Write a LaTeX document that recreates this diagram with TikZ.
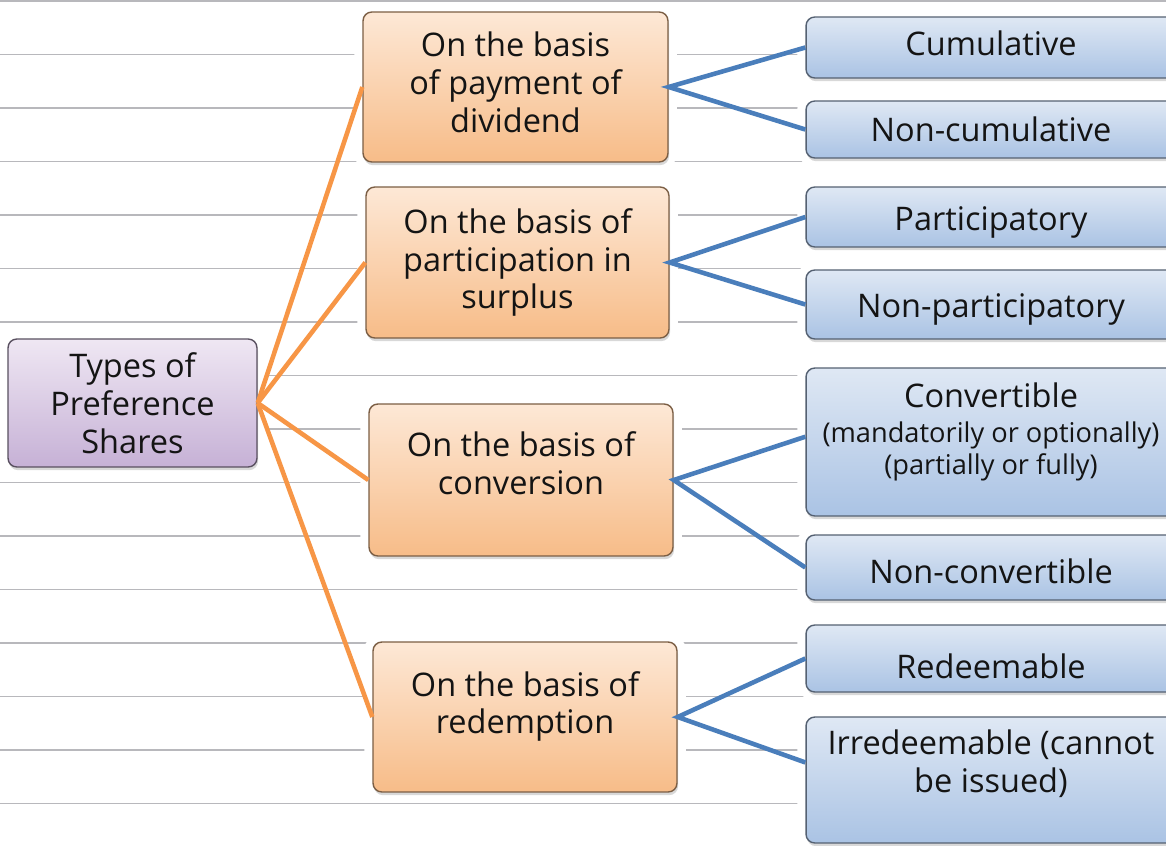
\documentclass[tikz,border=0pt]{standalone}
\usepackage{fontspec}
\setmainfont{Open Sans}
\usetikzlibrary{shadows}
\definecolor{purpletop}{HTML}{EFE7F3}
\definecolor{purplebot}{HTML}{C6B1D6}
\definecolor{orangetop}{HTML}{FDE8D6}
\definecolor{orangebot}{HTML}{F7BC88}
\definecolor{bluetop}{HTML}{DFE8F4}
\definecolor{bluebot}{HTML}{AAC3E4}
\definecolor{linkorange}{HTML}{F79646}
\definecolor{linkblue}{HTML}{4A7EBB}
\definecolor{ruled}{HTML}{B8B8BC}
\tikzset{
	box/.style={rounded corners=5pt, line width=0.8pt, align=center, inner sep=2pt, text=black!92,
		font=\fontsize{18.5}{21.5}\selectfont,
		preaction={draw=white, line width=10pt},
		drop shadow={shadow xshift=0.6pt, shadow yshift=-1.8pt, opacity=0.3}},
	typebox/.style={box, draw=black!55!purplebot, top color=purpletop, bottom color=purplebot},
	basisbox/.style={box, draw=black!50!orangebot, top color=orangetop, bottom color=orangebot},
	kindbox/.style={box, draw=black!50!bluebot, top color=bluetop, bottom color=bluebot, minimum width=7.4cm},
	orangelink/.style={draw=linkorange, line width=2.6pt},
	bluelink/.style={draw=linkblue, line width=2.6pt},
}
\newcommand{\smalltext}[1]{{\fontsize{15.5}{18}\selectfont #1}}

\begin{document}
\begin{tikzpicture}[x=0.02cm, y=-0.02cm]
		%%%%% START %%%%%
		\useasboundingbox (0, 0) rectangle (1166, 845);
		\clip (0, 0) rectangle (1166, 845);
		\fill[white] (0, 0) rectangle (1166, 845);
		
		% ruled lines
		\foreach \k in {0,...,15}
			\draw[ruled, line width=0.9pt] (0, {1+53.5*\k}) -- (1166, {1+53.5*\k});
		
		\node[typebox, minimum width=4.98cm, minimum height=2.56cm] (types) at (132.5, 403) {Types of\\Preference\\Shares};
		
		\node[basisbox, minimum width=6.10cm, minimum height=3.00cm, text depth=5.7pt] (payment) at (515.5, 87) {On the basis\\of payment of\\dividend};
		\node[basisbox, minimum width=6.06cm, minimum height=3.02cm] (surplus) at (517.5, 262.5) {On the basis of\\participation in\\surplus};
		\node[basisbox, minimum width=6.08cm, minimum height=3.04cm, text depth=19pt] (conversion) at (521, 480) {On the basis of\\conversion};
		\node[basisbox, minimum width=6.08cm, minimum height=3.00cm, text depth=16.5pt] (redemption) at (525, 717) {On the basis of\\redemption};
		
		\node[kindbox, minimum height=1.22cm, text depth=4.5pt] (cum) at (991, 47.5) {Cumulative};
		\node[kindbox, minimum height=1.14cm] (noncum) at (991, 129.5) {Non-cumulative};
		\node[kindbox, minimum height=1.20cm, text height=19.5pt] (part) at (991, 217) {Participatory};
		\node[kindbox, minimum height=1.38cm, text height=19.5pt] (nonpart) at (991, 304.5) {Non-participatory};
		\node[kindbox, minimum height=2.96cm, text depth=15pt] (conv) at (991, 442) {Convertible\\[-2pt]\smalltext{(mandatorily or optionally)}\\[-3pt]\smalltext{(partially or fully)}};
		\node[kindbox, minimum height=1.30cm, text height=18.5pt] (nonconv) at (991, 567.5) {Non-convertible};
		\node[kindbox, minimum height=1.34cm, text height=23.5pt] (redeem) at (991, 658.5) {Redeemable};
		\node[kindbox, minimum height=2.52cm, text depth=21.5pt] (irredeem) at (991, 780) {Irredeemable (cannot\\be issued)};
		
		% links from the main box
		\draw[orangelink] (types.east) -- (payment.west);
		\draw[orangelink] (types.east) -- (surplus.west);
		\draw[orangelink] (types.east) -- (conversion.west);
		\draw[orangelink] (types.east) -- (redemption.west);
		
		% links to the kinds
		\draw[bluelink] (cum.west) -- (payment.east) -- (noncum.west);
		\draw[bluelink] (part.west) -- (surplus.east) -- (nonpart.west);
		\draw[bluelink] ([yshift=3pt]conv.west) -- (conversion.east) -- (nonconv.west);
		\draw[bluelink] (redeem.west) -- (redemption.east) -- ([yshift=10pt]irredeem.west);
		
		%%%%% END %%%%%
	\end{tikzpicture}
\end{document}
